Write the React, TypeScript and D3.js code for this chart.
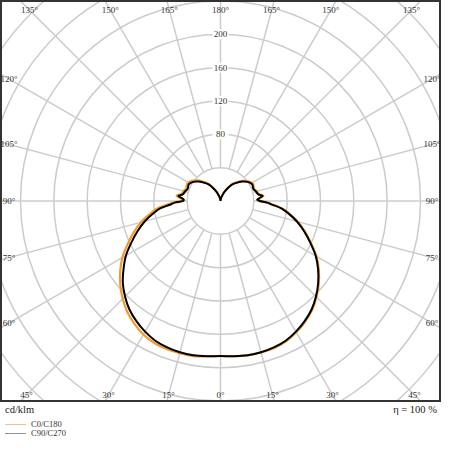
import React, { useEffect, useRef } from "react";
import * as d3 from "d3";

// gamma angles (0 = nadir, 180 = zenith)
const angles = [0, 5, 10, 15, 20, 25, 30, 35, 40, 45, 50, 55, 60, 65, 70, 75, 80, 83, 86, 88, 90, 92, 95, 97, 100, 105, 110, 118, 125, 132, 140, 145, 150, 155, 160, 170, 180];

// cd/klm, right half of each plane
const c0 = [186, 187, 188, 188, 188, 186, 182, 177, 171, 163, 154, 144, 133, 120, 108, 96, 83, 75, 63, 57, 48, 45, 49, 52, 47, 45, 43, 44, 41, 36, 29, 25, 19, 14, 9, 3, 0];
const c90 = [186, 187, 188, 188, 187, 185, 181, 176, 170, 162, 153, 143, 132, 119, 107, 95, 82, 74, 62, 56, 47, 44, 48, 51, 46, 44, 42, 43, 40, 35, 28, 24, 18, 13, 9, 3, 0];
// left half
const c180 = [186, 187, 189, 189, 189, 188, 185, 180, 174, 166, 157, 147, 136, 123, 111, 99, 85, 77, 65, 58, 48, 45, 50, 53, 48, 46, 44, 45, 42, 37, 29, 25, 19, 14, 9, 3, 0];
const c270 = [186, 187, 188, 188, 187, 185, 181, 176, 170, 162, 153, 142, 131, 118, 106, 94, 81, 73, 60, 55, 45, 44, 48, 51, 46, 44, 42, 43, 40, 35, 28, 24, 18, 13, 9, 3, 0];

const ringValues = [40, 80, 120, 160, 200, 240, 280, 320, 360];
const ringLabels = [80, 120, 160, 200];
const spokeAngles = d3.range(0, 360, 15);
const labelAngles = [0, 15, 30, 45, 60, 75, 90, 105, 120, 135, 150, 165, 180];

const legendItems = [
  { name: "C0/C180", color: "#f6b06a" },
  { name: "C90/C270", color: "#777777" },
];

const WIDTH = 449;
const HEIGHT = 450;
const FONT = "'Liberation Serif', 'Times New Roman', serif";

export default function App() {
  const ref = useRef<SVGSVGElement>(null);

  useEffect(() => {
    const svg = d3.select(ref.current);
    svg.selectAll("*").remove();

    const frame = { x: 1, y: 1, w: 439, h: 400 };
    const cx = frame.x + frame.w / 2;
    const cy = frame.y + frame.h / 2;

    const r = d3.scaleLinear().domain([0, 240]).range([0, 200]);

    svg
      .append("defs")
      .append("clipPath")
      .attr("id", "frame-clip")
      .append("rect")
      .attr("x", frame.x)
      .attr("y", frame.y)
      .attr("width", frame.w)
      .attr("height", frame.h);

    const plot = svg.append("g").attr("clip-path", "url(#frame-clip)");
    const g = plot.append("g").attr("transform", `translate(${cx},${cy})`);

    // rings
    g.selectAll("circle.ring")
      .data(ringValues)
      .join("circle")
      .attr("class", "ring")
      .attr("r", (d) => r(d))
      .attr("fill", "none")
      .attr("stroke", "#cccccc")
      .attr("stroke-width", 1.5);

    // spokes (screen angle measured from nadir)
    const toXY = (deg: number, v: number) => {
      const a = (deg * Math.PI) / 180;
      return [Math.sin(a) * r(v), Math.cos(a) * r(v)];
    };
    g.selectAll("line.spoke")
      .data(spokeAngles)
      .join("line")
      .attr("class", "spoke")
      .attr("x1", (d) => toXY(d, 40)[0])
      .attr("y1", (d) => toXY(d, 40)[1])
      .attr("x2", (d) => toXY(d, 400)[0])
      .attr("y2", (d) => toXY(d, 400)[1])
      .attr("stroke", "#cccccc")
      .attr("stroke-width", 1.5);

    // ring value labels along the zenith spoke
    const rl = g
      .selectAll("g.rlabel")
      .data(ringLabels)
      .join("g")
      .attr("class", "rlabel")
      .attr("transform", (d) => `translate(0,${-r(d)})`);
    rl.append("rect")
      .attr("x", -8)
      .attr("y", -5)
      .attr("width", 16)
      .attr("height", 10)
      .attr("fill", "white");
    rl.append("text")
      .attr("text-anchor", "middle")
      .attr("dy", "0.35em")
      .attr("font-family", FONT)
      .attr("font-size", 9)
      .attr("fill", "#333")
      .text((d) => d);

    // intensity curves
    const line = d3
      .lineRadial<[number, number]>()
      .angle((d) => d[0])
      .radius((d) => r(d[1]))
      .curve(d3.curveCatmullRom.alpha(0.5));

    const plane = (left: number[], right: number[]) => {
      const pts: [number, number][] = [];
      for (let i = angles.length - 1; i >= 0; i--) {
        pts.push([Math.PI + (angles[i] * Math.PI) / 180, left[i]]);
      }
      for (let i = 1; i < angles.length; i++) {
        pts.push([Math.PI - (angles[i] * Math.PI) / 180, right[i]]);
      }
      return pts;
    };

    g.append("path")
      .datum(plane(c180, c0))
      .attr("d", line as any)
      .attr("fill", "none")
      .attr("stroke", "#f39a2e")
      .attr("stroke-width", 2.2)
      .attr("stroke-linejoin", "round");
    g.append("path")
      .datum(plane(c270, c90))
      .attr("d", line as any)
      .attr("fill", "none")
      .attr("stroke", "#000000")
      .attr("stroke-width", 2)
      .attr("stroke-linejoin", "round");

    // angle labels on both sides, clamped to an inner box
    const box = { x0: 9, x1: 432, y0: 10, y1: 395 };
    const side = (deg: number, sign: number) => {
      const a = (deg * Math.PI) / 180;
      const dx = Math.sin(a) * sign;
      const dy = Math.cos(a);
      let t = Infinity;
      if (dx > 1e-9) t = Math.min(t, (box.x1 - cx) / dx);
      if (dx < -1e-9) t = Math.min(t, (box.x0 - cx) / dx);
      if (dy > 1e-9) t = Math.min(t, (box.y1 - cy) / dy);
      if (dy < -1e-9) t = Math.min(t, (box.y0 - cy) / dy);
      return [cx + dx * t, cy + dy * t];
    };
    const labelData: { deg: number; p: number[] }[] = [];
    labelAngles.forEach((deg) => {
      labelData.push({ deg, p: side(deg, 1) });
      if (deg !== 0 && deg !== 180) labelData.push({ deg, p: side(deg, -1) });
    });
    svg
      .append("g")
      .selectAll("text")
      .data(labelData)
      .join("text")
      .attr("x", (d) => d.p[0])
      .attr("y", (d) => d.p[1])
      .attr("dy", "0.35em")
      .attr("text-anchor", "middle")
      .attr("font-family", FONT)
      .attr("font-size", 9)
      .attr("fill", "#333")
      .text((d) => `${d.deg}°`);

    // frame
    svg
      .append("rect")
      .attr("x", frame.x)
      .attr("y", frame.y)
      .attr("width", frame.w)
      .attr("height", frame.h)
      .attr("fill", "none")
      .attr("stroke", "#333333")
      .attr("stroke-width", 2);

    // units / efficiency
    svg
      .append("text")
      .attr("x", 5)
      .attr("y", 413)
      .attr("font-family", FONT)
      .attr("font-size", 10.5)
      .attr("fill", "#222")
      .text("cd/klm");
    svg
      .append("text")
      .attr("x", 437)
      .attr("y", 413)
      .attr("text-anchor", "end")
      .attr("font-family", FONT)
      .attr("font-size", 10.5)
      .attr("fill", "#222")
      .text("η = 100 %");

    // legend
    const lg = svg
      .append("g")
      .selectAll("g")
      .data(legendItems)
      .join("g")
      .attr("transform", (d, i) => `translate(5,${424.5 + i * 9})`);
    lg.append("line")
      .attr("x1", 0)
      .attr("x2", 21)
      .attr("stroke", (d) => d.color)
      .attr("stroke-width", 0.8);
    lg.append("text")
      .attr("x", 26)
      .attr("dy", "0.35em")
      .attr("font-family", FONT)
      .attr("font-size", 8.5)
      .attr("fill", "#333")
      .text((d) => d.name);
  }, []);

  return (
    <svg
      ref={ref}
      width={WIDTH}
      height={HEIGHT}
      style={{ position: "absolute", left: 0, top: 0, background: "white" }}
    />
  );
}
